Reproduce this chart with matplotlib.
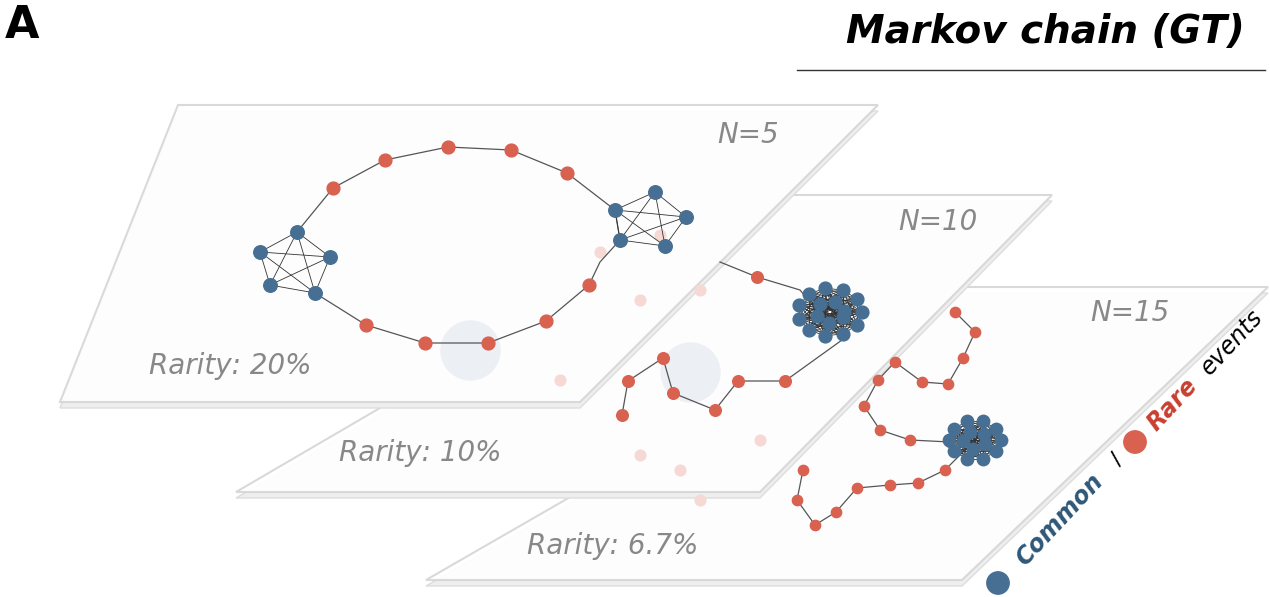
import matplotlib.pyplot as plt
import numpy as np
from matplotlib.patches import Polygon

BLUE = "#466f93"
RED = "#d9614f"

# plane corners (pixel space): top-left, top-right, bottom-right, bottom-left
planes = {
    "N=5": [(178, 105), (878, 105), (580, 402), (60, 402)],
    "N=10": [(745, 195), (1052, 195), (760, 492), (236, 492)],
    "N=15": [(935, 287), (1268, 287), (962, 580), (426, 580)],
}
plane_labels = {"N=5": (748, 135), "N=10": (938, 222), "N=15": (1130, 313)}
rarity_labels = {"N=5": ("Rarity: 20%", (230, 366)), "N=10": ("Rarity: 10%", (420, 453)),
                 "N=15": ("Rarity: 6.7%", (613, 546))}

# plane 1 graph
ring1 = [(297, 232), (333, 188), (385, 160), (448, 147), (511, 150), (567, 173), (615, 210),
         (620, 240), (600, 262), (589, 285), (546, 321), (488, 343), (425, 343), (366, 325), (315, 293)]
red1 = [(333, 188), (385, 160), (448, 147), (511, 150), (567, 173), (589, 285), (546, 321),
        (488, 343), (425, 343), (366, 325)]
clusterL = [(260, 252), (297, 232), (330, 257), (315, 293), (270, 285)]
clusterR = [(615, 210), (655, 192), (686, 217), (665, 246), (620, 240)]

# plane 2 graph
chain2 = [(720, 262), (757, 277), (800, 290), (842, 340), (785, 381), (738, 381), (715, 410),
          (673, 393), (663, 358), (628, 381), (622, 415)]
red2 = [(757, 277), (785, 381), (738, 381), (715, 410), (673, 393), (663, 358), (628, 381), (622, 415)]
cluster2_c = (830, 312)

# plane 3 graph
chain3 = [(955, 312), (975, 332), (963, 358), (948, 384), (922, 382), (895, 362), (878, 380),
          (864, 406), (880, 430), (910, 440), (950, 442), (975, 440), (945, 470), (918, 483),
          (890, 485), (857, 488), (836, 512), (815, 525), (797, 500), (803, 470)]
red3 = [p for p in chain3 if p != (975, 440)]
cluster3_c = (975, 440)

ghost = [(600, 252), (640, 300), (700, 290), (660, 235), (560, 380), (680, 470), (760, 440),
         (640, 455), (700, 500)]


def cluster(center, n, r):
    ang = np.linspace(0, 2 * np.pi, n, endpoint=False)
    pts = [(center[0] + r * np.cos(a), center[1] + 0.75 * r * np.sin(a)) for a in ang]
    pts += [(center[0] + 0.45 * r * np.cos(a + 0.5), center[1] + 0.35 * r * np.sin(a + 0.5)) for a in ang[::2]]
    return pts


def draw_clique(ax, pts, s=95):
    for i in range(len(pts)):
        for j in range(i + 1, len(pts)):
            ax.plot([pts[i][0], pts[j][0]], [pts[i][1], pts[j][1]], color="#333333", lw=0.6, zorder=5)
    xs, ys = zip(*pts)
    ax.scatter(xs, ys, s=s, color=BLUE, zorder=6)


def draw_chain(ax, pts, reds, s=85):
    xs, ys = zip(*pts)
    ax.plot(xs, ys, color="#555555", lw=0.9, zorder=5)
    rx, ry = zip(*reds)
    ax.scatter(rx, ry, s=s, color=RED, zorder=6)


fig = plt.figure(figsize=(12.7, 5.97), dpi=100)
ax = fig.add_axes([0, 0, 1, 1])
ax.set_xlim(0, 1270)
ax.set_ylim(597, 0)
ax.axis("off")

for z, key in zip([1, 2, 3], ["N=15", "N=10", "N=5"]):
    corners = planes[key]
    shadow = [(x, y + 6) for x, y in corners]
    ax.add_patch(Polygon(shadow, closed=True, facecolor="#eeeeee", edgecolor="#dddddd", lw=1, zorder=z))
    ax.add_patch(Polygon(corners, closed=True, facecolor="white", edgecolor="#d6d6d6", lw=1.5,
                         alpha=0.92, zorder=z))

gx, gy = zip(*ghost)
ax.scatter(gx, gy, s=60, color="#f6d9d4", zorder=3.5)
ax.scatter([470, 690], [350, 372], s=1800, color="#eceff3", zorder=3.5)

draw_chain(ax, ring1, red1)
draw_clique(ax, clusterL)
draw_clique(ax, clusterR)
draw_chain(ax, chain2, red2, s=70)
draw_clique(ax, cluster(cluster2_c, 11, 32), s=85)
draw_chain(ax, chain3, red3, s=55)
draw_clique(ax, cluster(cluster3_c, 10, 26), s=80)

for key, (x, y) in plane_labels.items():
    ax.text(x, y, key, fontsize=20, style="italic", color="#888888", ha="center", va="center", zorder=8)
for key, (txt, (x, y)) in rarity_labels.items():
    ax.text(x, y, txt, fontsize=20, style="italic", color="#888888", ha="center", va="center", zorder=8)

ax.text(5, 25, "A", fontsize=32, fontweight="heavy", ha="left", va="center")
ax.text(1245, 32, "Markov chain (GT)", fontsize=28, fontweight="heavy", style="italic",
        ha="right", va="center")
ax.plot([797, 1265], [70, 70], color="#333333", lw=1)

# rotated legend
rot = 47
ax.scatter([998, 1135], [583, 442], s=260, color=[BLUE, RED], zorder=8)
ax.text(1060, 520, "Common", fontsize=17, fontweight="bold", style="italic", color="#2f5777",
        rotation=rot, ha="center", va="center", rotation_mode="anchor")
ax.text(1117, 459, "/", fontsize=16, rotation=rot, ha="center", va="center", rotation_mode="anchor")
ax.text(1172, 405, "Rare", fontsize=17, fontweight="bold", style="italic", color="#c8402f",
        rotation=rot, ha="center", va="center", rotation_mode="anchor")
ax.text(1232, 342, "events", fontsize=17, style="italic", color="black",
        rotation=rot, ha="center", va="center", rotation_mode="anchor")

fig.savefig("out.png", dpi=100)
